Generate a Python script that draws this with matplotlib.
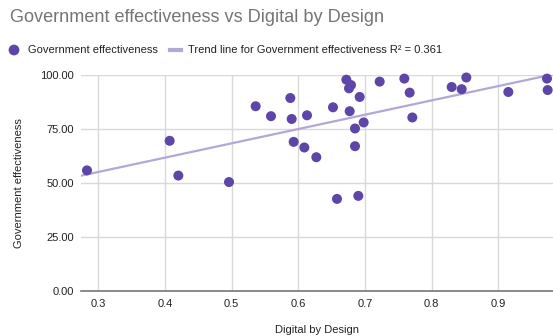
import numpy as np
import matplotlib.pyplot as plt

plt.rcParams['font.family'] = ['Liberation Sans', 'DejaVu Sans']

# Digital by Design score vs government effectiveness, one point per country
digital_by_design = [0.283, 0.407, 0.420, 0.496, 0.536, 0.559, 0.588, 0.590,
                     0.613, 0.593, 0.609, 0.627, 0.652, 0.672, 0.679, 0.676,
                     0.692, 0.677, 0.685, 0.698, 0.685, 0.658, 0.690, 0.722,
                     0.759, 0.767, 0.771, 0.830, 0.845, 0.852, 0.915, 0.973,
                     0.974]
gov_effectiveness = [55.7, 69.4, 53.3, 50.3, 85.4, 80.8, 89.2, 79.5,
                     81.2, 68.9, 66.3, 61.8, 84.9, 97.7, 95.2, 93.7,
                     89.7, 83.1, 75.1, 77.9, 66.9, 42.5, 43.9, 96.8,
                     98.2, 91.7, 80.2, 94.3, 93.3, 98.7, 92.0, 98.2,
                     92.9]
x_ticks = [0.3, 0.4, 0.5, 0.6, 0.7, 0.8, 0.9]
y_ticks = [0, 25, 50, 75, 100]

x = np.array(digital_by_design)
y = np.array(gov_effectiveness)
slope, intercept = np.polyfit(x, y, 1)

W, H = 553, 336
fig = plt.figure(figsize=(W / 100, H / 100), dpi=100)
ax = fig.add_axes([81 / W, 1 - 290.7 / H, (W - 81) / W, (290.7 - 74.7) / H])

xlim = (0.274, 0.982)
xs = np.array(xlim)
ax.plot(xs, slope * xs + intercept, color='#b4a7d6', lw=1.6, zorder=2)
ax.scatter(x, y, s=52, color='#5e46a8', edgecolors='none', zorder=3, clip_on=False)

ax.set_xlim(*xlim)
ax.set_ylim(0, 100)
ax.set_xticks(x_ticks)
ax.set_xticklabels([f'{t:g}' for t in x_ticks])
ax.set_yticks(y_ticks)
ax.set_yticklabels([f'{t:.2f}' for t in y_ticks])
ax.tick_params(length=0, labelsize=8, colors='#222222', pad=5)
ax.tick_params(axis='x', pad=6)
ax.grid(True, color='#d9d9d9', lw=1)
ax.set_axisbelow(True)
for side in ['top', 'right', 'left']:
    ax.spines[side].set_visible(False)
ax.spines['bottom'].set_color('#777777')
ax.spines['bottom'].set_linewidth(1.2)

ax.set_ylabel('Government effectiveness', fontsize=8, color='#222222', labelpad=12)
fig.text(317 / W, 1 - 330 / H, 'Digital by Design', fontsize=8,
         color='#222222', va='center', ha='center')

fig.text(10 / W, 1 - 18 / H, 'Government effectiveness vs Digital by Design',
         fontsize=13.1, color='#757575', va='center', ha='left')

# legend row
fig.text(28 / W, 1 - 50 / H, 'Government effectiveness', fontsize=8,
         color='#222222', va='center', ha='left')
fig.text(188 / W, 1 - 50 / H, 'Trend line for Government effectiveness R² = 0.361',
         fontsize=8, color='#222222', va='center', ha='left')
leg = fig.add_axes([0, 0, 1, 1], facecolor='none')
leg.set_xlim(0, W)
leg.set_ylim(H, 0)
leg.axis('off')
leg.scatter([14], [50], s=60, color='#5e46a8', edgecolors='none')
leg.plot([170, 181], [50, 50], color='#b4a7d6', lw=3)

fig.savefig('out.png', dpi=100)
